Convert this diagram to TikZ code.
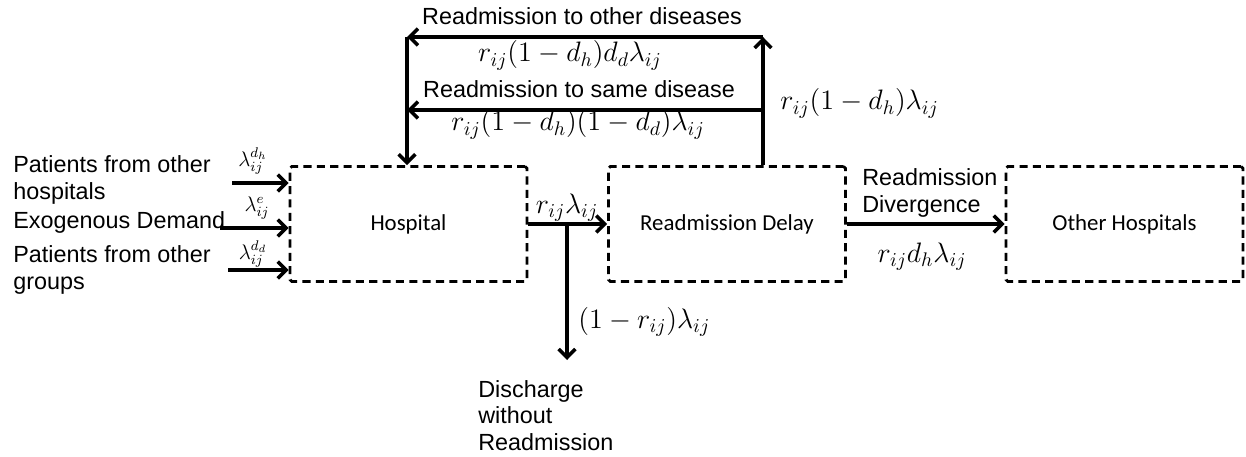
\RequirePackage{fix-cm}
\documentclass[tikz,border=0pt]{standalone}
\usepackage{fontspec}
\setmainfont{Liberation Sans}
\newfontfamily\boxfont{Carlito}
\usetikzlibrary{arrows.meta}
\tikzset{
  unit/.style={draw,dash pattern=on 4.6pt off 3pt,line width=1.6pt,rounded corners=1pt,minimum width=4.74cm,minimum height=2.3cm,font=\boxfont\fontsize{13}{15}\selectfont},
  flow/.style={-{Straight Barb[length=4.8pt,width=9.5pt]},line width=2pt},
  txt/.style={inner sep=0pt,font=\fontsize{13.3}{15}\selectfont,align=left},
  rate/.style={inner sep=0pt,font=\fontsize{16}{18}\selectfont},
  inrate/.style={inner sep=0pt,font=\fontsize{12}{14}\selectfont}
}
\begin{document}
\begin{tikzpicture}[x=0.02cm,y=-0.02cm]
  \useasboundingbox (0,0) rectangle (1246,456);
  \node[unit] (hosp) at (408.5,224) {Hospital};
  \node[unit] (delay) at (727,224) {Readmission Delay};
  \node[unit] (other) at (1124.5,224) {Other Hospitals};

  % corners of the readmission loop
  \coordinate (tr) at (763,37);
  \coordinate (tl) at (407,37);
  \coordinate (mr) at (763,110);
  \coordinate (ml) at (407,110);
  \coordinate (split) at (567,224);
  \coordinate (out) at (567,360);
  \coordinate (in1) at (232,183);
  \coordinate (in2) at (220,228);
  \coordinate (in3) at (228,270);

  \draw[flow] (tr |- delay.north) -- (tr);
  \draw[flow] (tr) -- (tl);
  \draw[flow] (mr) -- (ml);
  \draw[flow] (tl) -- (tl |- hosp.north);
  \draw[flow] (hosp.east) -- (delay.west);
  \draw[flow] (split) -- (out);
  \draw[flow] (delay.east) -- (other.west);
  \draw[flow] (in1) -- (in1 -| hosp.west);
  \draw[flow] (in2) -- (in2 -| hosp.west);
  \draw[flow] (in3) -- (in3 -| hosp.west);

  \node[txt,anchor=base] (lother) at (582,25) {Readmission to other diseases};
  \node[rate,anchor=base] (rother) at (570,62) {$r_{ij}(1-d_h)d_d\lambda_{ij}$};
  \node[txt,anchor=base] (lsame) at (579,97) {Readmission to same disease};
  \node[rate,anchor=base] (rsame) at (578,131) {$r_{ij}(1-d_h)(1-d_d)\lambda_{ij}$};
  \node[rate,anchor=base west] (rback) at (780,110) {$r_{ij}(1-d_h)\lambda_{ij}$};

  \node[rate,anchor=base] (rread) at (567,213) {$r_{ij}\lambda_{ij}$};
  \node[rate,anchor=base west] (rdis) at (578,328) {$(1-r_{ij})\lambda_{ij}$};
  % multi-line texts: base is the last line
  \node[txt,anchor=base west] (ldis) at (478,450) {Discharge\\without\\Readmission};
  \node[txt,anchor=base west] (ldiv) at (862,212) {Readmission\\Divergence};
  \node[rate,anchor=base] (rdiv) at (922,262) {$r_{ij}d_h\lambda_{ij}$};

  \node[txt,anchor=base west] (lhosp) at (13,199) {Patients from other\\hospitals};
  \node[txt,anchor=base west] (lexo) at (13,228) {Exogenous Demand};
  \node[txt,anchor=base west] (lgrp) at (13,289) {Patients from other\\groups};
  \node[inrate] (rin1) at (253,161) {$\lambda_{ij}^{d_h}$};
  \node[inrate] (rin2) at (257,208) {$\lambda_{ij}^{e}$};
  \node[inrate] (rin3) at (253,254) {$\lambda_{ij}^{d_d}$};
\end{tikzpicture}
\end{document}
